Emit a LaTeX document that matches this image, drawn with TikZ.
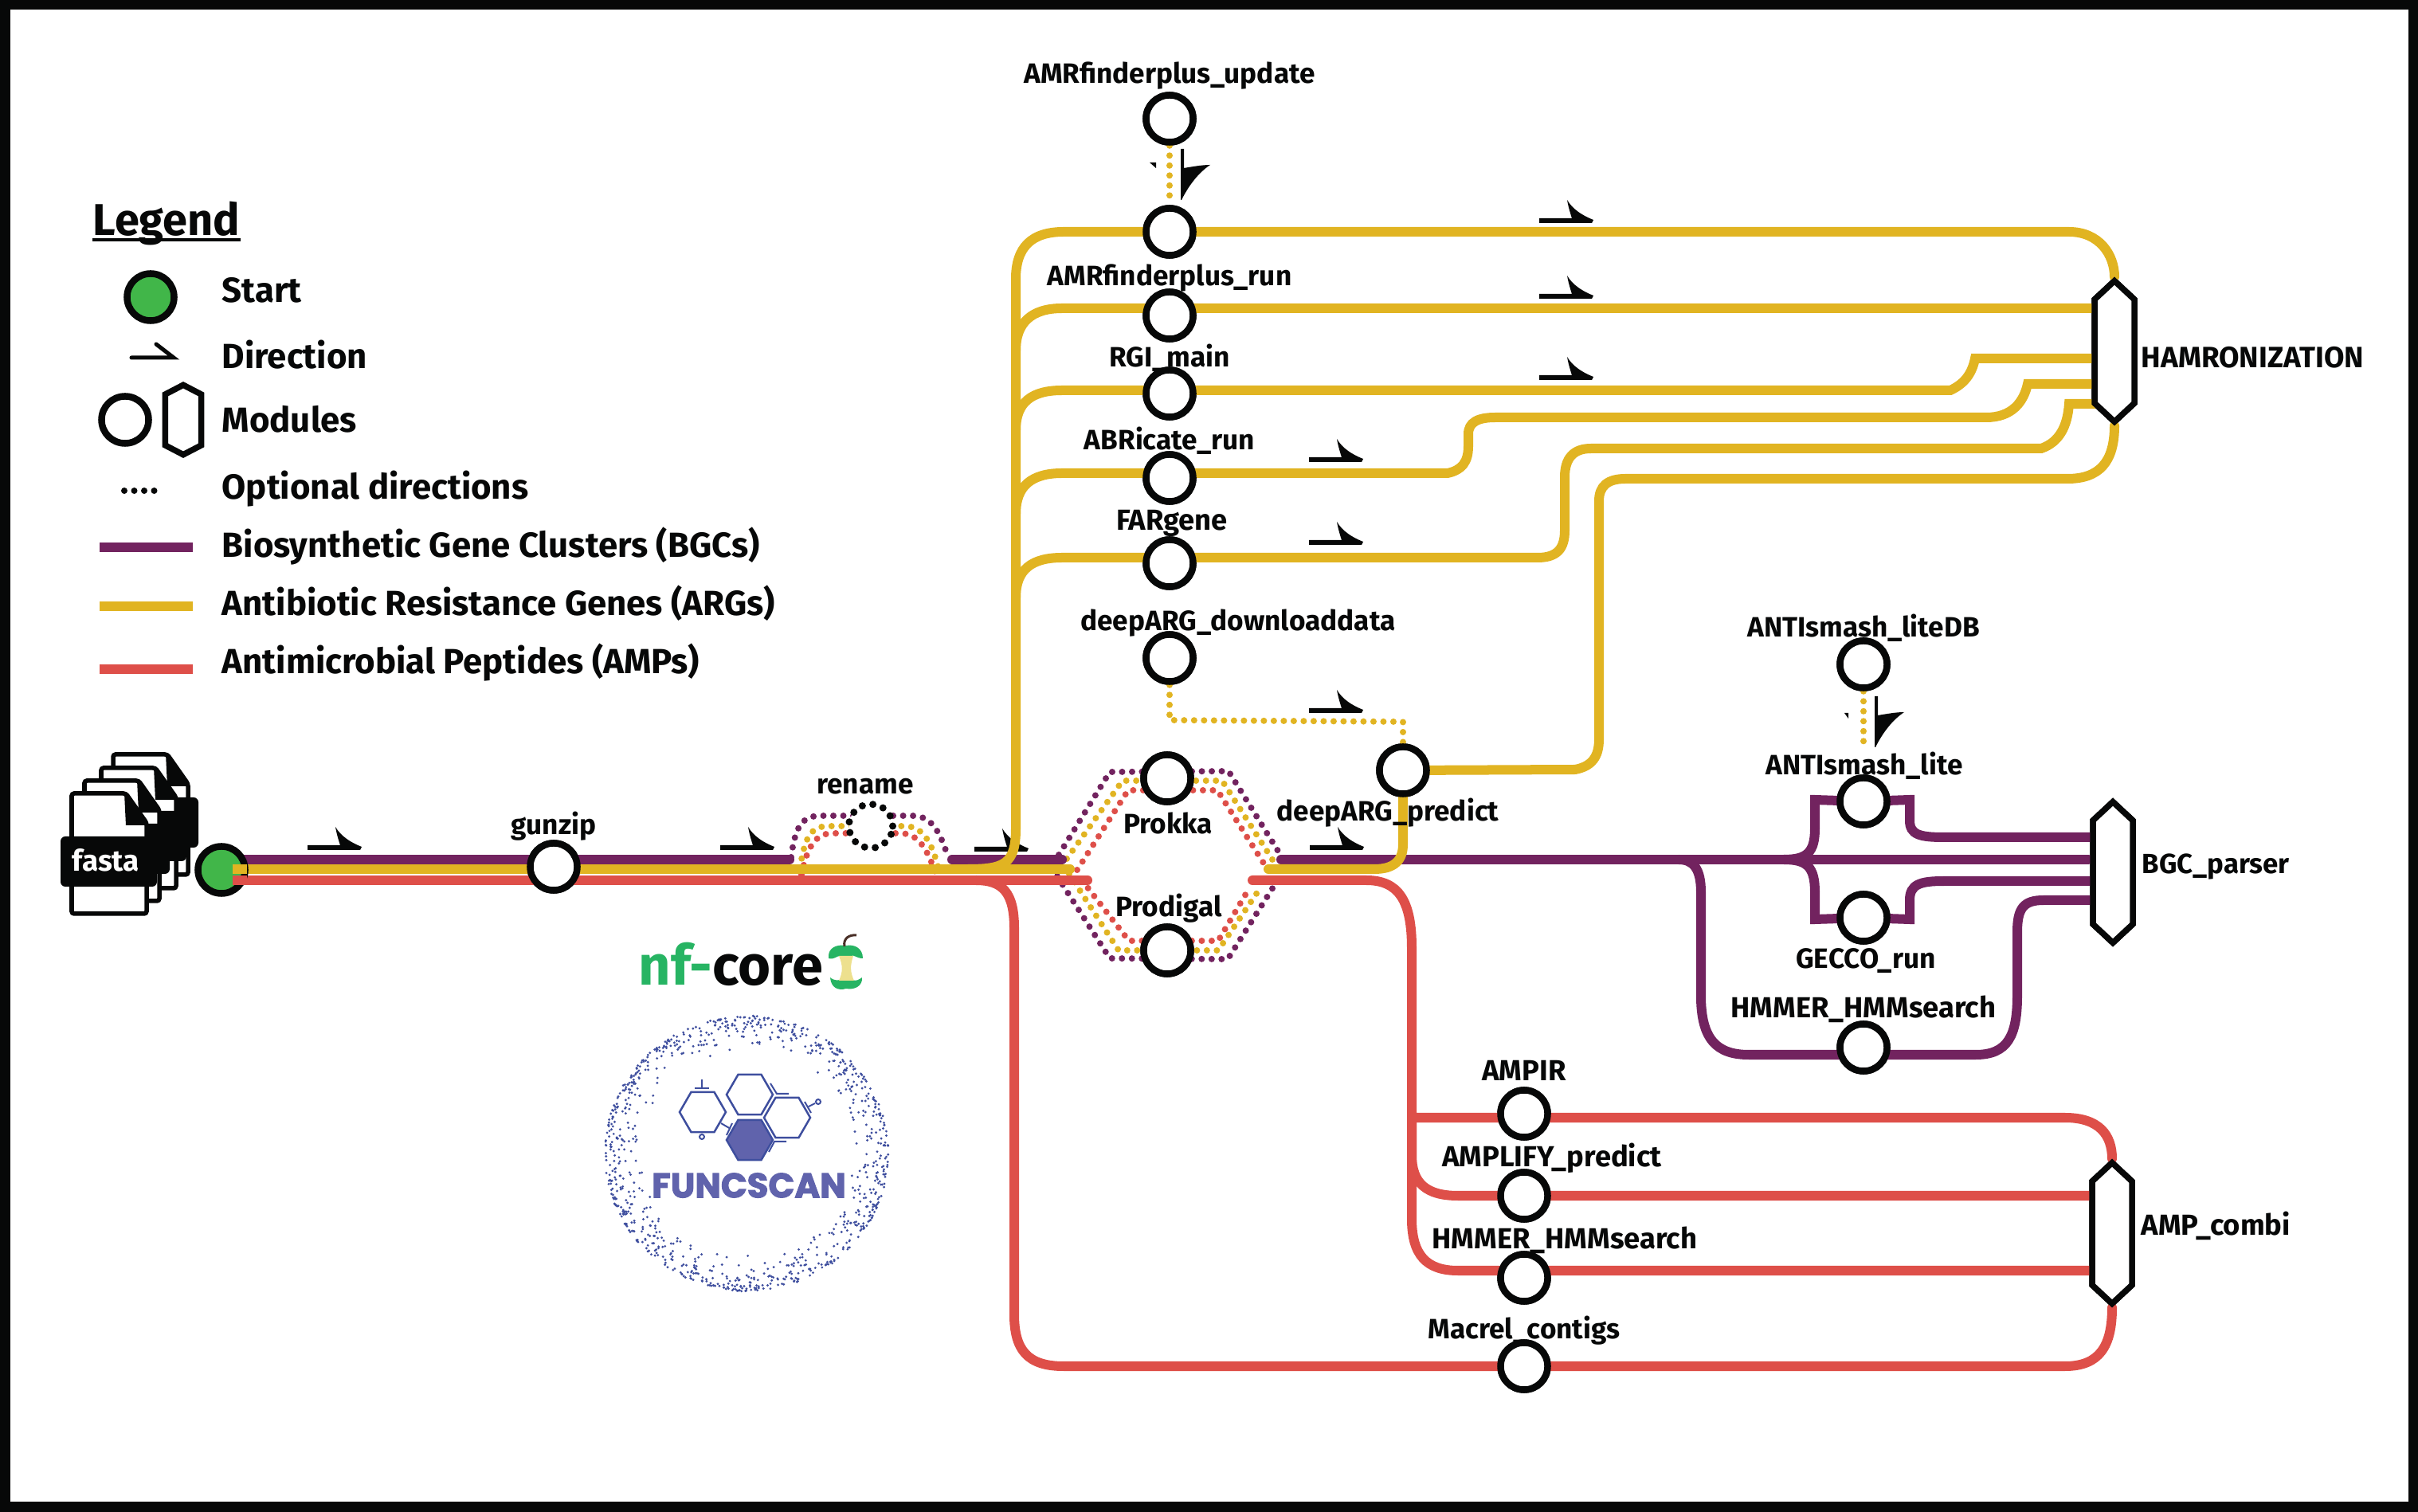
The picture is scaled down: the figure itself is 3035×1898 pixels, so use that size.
\documentclass[tikz,border=0pt]{standalone}
\usepackage{fontspec}
\setmainfont{Fira Sans}
\newfontfamily\logofont[BoldFeatures={FakeBold=2.5}]{Poppins}
\usetikzlibrary{
    positioning,
    calc,
    shapes.geometric,
    shapes.symbols
}
\definecolor{bgcpurple}{HTML}{72235F}
\definecolor{arggold}{HTML}{E1B422}
\definecolor{ampred}{HTML}{DE4F49}
\definecolor{startgreen}{HTML}{41B649}
\definecolor{inkblack}{HTML}{070808}
\definecolor{logoblue}{HTML}{6063AC}
\definecolor{dotblue}{HTML}{3E4E9E}
\definecolor{nfgreen}{HTML}{27B463}
\definecolor{corecream}{HTML}{EDE08E}
\definecolor{stembrown}{HTML}{4A3028}

\begin{document}
\begin{tikzpicture}[
    x=0.01cm, y=-0.01cm,
    track/.style={line width=0.12cm, line cap=round},
    bgc/.style={track, draw=bgcpurple},
    arg/.style={track, draw=arggold},
    amp/.style={track, draw=ampred},
    dots/.style={line width=0.08cm, line cap=round, dash pattern=on 0pt off 0.125cm},
    module/.style={circle, draw=inkblack, fill=white, line width=0.085cm, minimum size=0.59cm, inner sep=0pt},
    startmod/.style={module, fill=startgreen},
    hexmod/.style={signal, signal to=north and south, signal pointer angle=94, draw=inkblack, fill=white,
        line width=0.075cm, inner sep=0pt, minimum width=0.5cm, minimum height=1.30cm},
    modname/.style={font=\bfseries\fontsize{10}{12}\selectfont, text=inkblack, inner sep=0pt, yshift=-0.02cm},
    capsname/.style={modname, font=\bfseries\fontsize{10.35}{12}\selectfont},
    legendname/.style={font=\bfseries\fontsize{12.45}{15}\selectfont, text=inkblack, anchor=west, inner sep=0pt},
    dirarrow/.pic={\fill[inkblack] (0,-3) -- (41,-3) .. controls (38,-12) and (36,-20) .. (35,-26)
        .. controls (42,-14) and (55,-6) .. (68,-1) -- (66,3) -- (0,3) -- cycle;},
    dirdown/.pic={\fill[inkblack] (-2,0) -- (2,0) -- (2,24) .. controls (14,22) and (25,20) .. (35,20)
        .. controls (20,30) and (8,46) .. (-1,64) -- (-2,64) -- cycle;}
]
    \useasboundingbox (0,0) rectangle (3035,1898);
    \draw[inkblack, line width=0.13cm] (6,6) rectangle (3029,1892);

    % Module positions
    \node[module] (gunzip) at (695,1088) {};
    \node[module, draw=none, fill=none] (rename) at (1093,1037) {};
    \node[module] (prokka) at (1465,977) {};
    \node[module] (prodigal) at (1465,1193) {};
    \node[module] (amrupdate) at (1468,149) {};
    \node[module] (amrrun) at (1468,291) {};
    \node[module] (amrlow) at (1468,396) {};
    \node[module] (rgi) at (1468,494) {};
    \node[module] (abricate) at (1468,600) {};
    \node[module] (fargene) at (1468,707) {};
    \node[module] (deepdata) at (1468,826) {};
    \node[module] (deeppred) at (1761,967) {};
    \node[module] (asliteb) at (2339,834) {};
    \node[module] (aslite) at (2339,1006) {};
    \node[module] (gecco) at (2339,1152) {};
    \node[module] (hmmerbgc) at (2339,1315) {};
    \node[module] (ampir) at (1913,1398) {};
    \node[module] (amplify) at (1913,1501) {};
    \node[module] (hmmeramp) at (1913,1604) {};
    \node[module] (macrel) at (1913,1715) {};
    \node[hexmod] (hamr) at (2654,441) {};
    \node[hexmod] (bgcparser) at (2652,1095) {};
    \node[hexmod] (ampcombi) at (2651,1548) {};
    \coordinate (junction) at (1275,1040);

    % Optional paths round rename and the two gene callers
    \draw[dots, draw=bgcpurple] (993,1076) .. controls (998,1040) and (1005,1024) .. (1030,1024) -- (1145,1024)
        .. controls (1170,1024) and (1180,1045) .. (1190,1076);
    \draw[dots, draw=arggold] (1004,1090) .. controls (1010,1055) and (1015,1037) .. (1040,1037) -- (1135,1037)
        .. controls (1160,1037) and (1170,1060) .. (1178,1090);
    \draw[dots, draw=ampred] (1006,1098) .. controls (1012,1070) and (1020,1046) .. (1045,1046) -- (1130,1046)
        .. controls (1155,1046) and (1165,1070) .. (1175,1098);
    \draw[dots, draw=bgcpurple] (1329,1073) -- (1393,969) -- (1542,968) -- (1604,1068);
    \draw[dots, draw=arggold] (1339,1078) -- (1409,980) -- (1534,980) -- (1599,1082);
    \draw[dots, draw=ampred] (1352,1092) -- (1416,992) -- (1528,992) -- (1587,1085);
    \draw[dots, draw=ampred] (1358,1105) -- (1417,1181) -- (1529,1181) -- (1568,1115);
    \draw[dots, draw=arggold] (1342,1097) -- (1404,1193) -- (1529,1193) -- (1583,1113);
    \draw[dots, draw=bgcpurple] (1327,1100) -- (1393,1203) -- (1541,1204) -- (1608,1098);
    \draw[dots, draw=arggold] (amrupdate) -- (amrrun);
    \draw[dots, draw=arggold] (deepdata) -- (1468,904) -- (1761,906) -- (deeppred);
    \draw[dots, draw=arggold] (asliteb) -- (2339,941);

    % Direction arrows
    \foreach \ax/\ay in {386/1064, 904/1064, 1223/1066, 1644/1064, 1932/277, 1932/372, 1932/474, 1643/577, 1643/681, 1643/892}
        \pic at (\ax,\ay) {dirarrow};
    \pic at (1484,187) {dirdown};
    \pic at (2355,874) {dirdown};
    \fill[inkblack] (1443,204) -- (1451,204) -- (1451,211) -- cycle;
    \fill[inkblack] (2315,895) -- (2320,895) -- (2320,902) -- cycle;

    % Biosynthetic gene clusters
    \draw[bgc] (278,1079) -- (991,1079);
    \draw[bgc] (1195,1079) -- (1333,1079);
    \draw[bgc] (1608,1079) -- (2621,1079);
    \draw[bgc] (2239,1079) .. controls (2268,1079) and (2278,1070) .. (2278,1040) -- (2278,1004) -- (aslite)
        -- (2397,1004) -- (2397,1030) .. controls (2397,1048) and (2410,1051) .. (2440,1051) -- (bgcparser.west |- 0,1051);
    \draw[bgc] (2239,1079) .. controls (2268,1079) and (2278,1088) .. (2278,1120) -- (2278,1154) -- (gecco)
        -- (2397,1154) -- (2397,1130) .. controls (2397,1110) and (2410,1106) .. (2440,1106) -- (bgcparser.west |- 0,1106);
    \draw[bgc] (2107,1079) .. controls (2125,1079) and (2135,1090) .. (2135,1120) -- (2135,1250)
        .. controls (2135,1305) and (2155,1324) .. (2195,1324) -- (2480,1324)
        .. controls (2520,1324) and (2532,1300) .. (2532,1250) -- (2532,1170)
        .. controls (2532,1140) and (2540,1130) .. (2565,1130) -- (bgcparser.west |- 0,1130);

    % Antibiotic resistance genes
    \draw[arg] (292,1091) -- (1343,1091);
    \draw[arg] (1592,1091) -- (1725,1091) .. controls (1750,1091) and (1761,1080) .. (1761,1060) -- (deeppred);
    \draw[arg] (1215,1091) .. controls (1260,1091) and (1275,1085) .. (junction) -- (1275,350)
        .. controls (1275,310) and (1295,291) .. (1335,291) -- (amrrun) -- (2597,291)
        .. controls (2635,291) and (2654,320) .. (hamr.north);
    \draw[arg] (1275,440) .. controls (1275,405) and (1295,387) .. (1333,387) -- (1468,387) -- (hamr.center |- 0,387);
    \draw[arg] (1275,540) .. controls (1275,505) and (1295,490) .. (1333,490) -- (2448,490)
        .. controls (2465,482) and (2475,470) .. (2479,450) -- (hamr.center |- 0,450);
    \draw[arg] (1275,645) .. controls (1275,610) and (1295,594) .. (1333,594) -- (1817,594)
        .. controls (1835,590) and (1843,580) .. (1843,560) -- (1843,545) .. controls (1843,530) and (1855,524) .. (1877,524)
        -- (2493,524) .. controls (2525,524) and (2540,505) .. (2545,482) -- (hamr.center |- 0,482);
    \draw[arg] (1275,750) .. controls (1275,715) and (1295,700) .. (1333,700) -- (1930,700)
        .. controls (1955,700) and (1964,688) .. (1964,666) -- (1964,599) .. controls (1964,575) and (1975,563) .. (1997,563)
        -- (2562,563) .. controls (2585,555) and (2595,535) .. (2597,507) -- (hamr.center |- 0,507);
    \draw[arg] (deeppred) -- (1977,966) .. controls (1998,962) and (2007,950) .. (2007,928) -- (2007,629)
        .. controls (2007,610) and (2018,601) .. (2040,601) -- (2595,601)
        .. controls (2635,601) and (2654,580) .. (hamr.south);

    % Antimicrobial peptides
    \draw[amp] (292,1105) -- (1365,1105);
    \draw[amp] (1225,1105) .. controls (1258,1105) and (1273,1120) .. (1273,1165) -- (1273,1650)
        .. controls (1273,1695) and (1290,1715) .. (1335,1715) -- (macrel) -- (2592,1715)
        .. controls (2635,1715) and (2651,1690) .. (ampcombi.south);
    \draw[amp] (1572,1105) -- (1715,1105) .. controls (1755,1105) and (1772,1130) .. (1772,1190) -- (1772,1403)
        -- (2592,1403) .. controls (2635,1403) and (2651,1425) .. (ampcombi.north);
    \draw[amp] (1772,1400) -- (1772,1450) .. controls (1772,1485) and (1790,1501) .. (1830,1501) -- (ampcombi.center |- 0,1501);
    \draw[amp] (1772,1400) -- (1772,1530) .. controls (1772,1575) and (1790,1595) .. (1830,1595) -- (ampcombi.center |- 0,1595);

    % Modules on top of the lines
    \foreach \mod in {gunzip, prokka, prodigal, amrupdate, amrrun, amrlow, rgi, abricate, fargene, deepdata,
        deeppred, asliteb, aslite, gecco, hmmerbgc, ampir, amplify, hmmeramp, macrel}
        \node[module] at (\mod) {};
    \node[module, line width=0.09cm, line cap=round, dash pattern=on 0pt off 0.135cm, minimum size=0.55cm] at (rename) {};
    \foreach \hex in {hamr, bgcparser, ampcombi}
        \node[hexmod] at (\hex) {};
    \node[startmod] (start) at (278,1092) {};
    \fill[arggold] (292,1085) rectangle (310,1097);
    \fill[ampred] (292,1099) rectangle (310,1111);

    % Module names
    \node[modname] at (695,1035) {gunzip};
    \node[modname] at (1086,985) {rename};
    \node[modname] at (1466,1031) {Prokka};
    \node[modname] at (1467,1138) {Prodigal};
    \node[modname] at (1468,93) {AMRfinderplus\_update};
    \node[modname] at (1468,347) {AMRfinderplus\_run};
    \node[modname] at (1468,447) {RGI\_main};
    \node[modname] at (1468,551) {ABRicate\_run};
    \node[capsname] at (1471,655) {FARgene};
    \node[modname] at (1554,780) {deepARG\_downloaddata};
    \node[modname] at (1742,1018) {deepARG\_predict};
    \node[modname] at (2339,786) {ANTIsmash\_liteDB};
    \node[modname] at (2340,959) {ANTIsmash\_lite};
    \node[modname] at (2342,1204) {GECCO\_run};
    \node[capsname] at (2339,1265) {HMMER\_HMMsearch};
    \node[capsname] at (1913,1342) {AMPIR};
    \node[capsname] at (1948,1452) {AMPLIFY\_predict};
    \node[capsname] at (1964,1555) {HMMER\_HMMsearch};
    \node[modname] at (1913,1668) {Macrel\_contigs};
    \node[capsname, anchor=west, font=\bfseries\fontsize{10.5}{12}\selectfont] at (2687,447) {HAMRONIZATION};
    \node[modname, anchor=west, font=\bfseries\fontsize{9.9}{12}\selectfont] at (2688,1086) {BGC\_parser};
    \node[capsname, anchor=west] at (2687,1537) {AMP\_combi};

    % Input files
    \foreach \fx/\fy in {52/-49, 37/-32, 16/-16, 0/0} {
        \begin{scope}[shift={(\fx,\fy)}]
            \draw[inkblack, fill=white, line width=0.055cm, rounded corners=0.03cm] (90,996) -- (158,996) -- (184,1033) -- (184,1147) -- (90,1147) -- cycle;
            \fill[inkblack] (156,995) -- (187,1036) -- (158,1036) -- cycle;
            \fill[inkblack, rounded corners=0.06cm] (76,1050) rectangle (197,1113);
        \end{scope}
    }
    \node[font=\bfseries\fontsize{10.5}{12}\selectfont, text=white, inner sep=0pt] (fastaname) at (133,1080) {fasta};

    % Legend
    \node[font=\bfseries\fontsize{15.9}{18}\selectfont, text=inkblack, anchor=base west, inner sep=0pt] (legendtitle) at (116,296) {Legend};
    \draw[inkblack, line width=0.04cm] (legendtitle.base west |- 0,301) -- (legendtitle.base east |- 0,301);
    \node[startmod] (legstart) at (189,373) {};
    \node[legendname] (legstarttext) at (278,364) {Start};
    \draw[inkblack, line width=0.05cm, line cap=round] (165,449) -- (218,449) -- (196,432);
    \node[legendname] (legdirtext) at (278,445) {Direction};
    \node[module] (legmod) at (157,527) {};
    \node[signal, signal to=north and south, signal pointer angle=125, draw=inkblack, fill=white, line width=0.075cm,
        inner sep=0pt, minimum width=0.45cm, minimum height=0.64cm] (leghex) at (230,527) {};
    \node[legendname] (legmodtext) at (278,526) {Modules};
    \draw[dots, draw=inkblack] (156,616) -- (206,616);
    \node[legendname] (legopttext) at (278,614) {Optional directions};
    \draw[bgcpurple, line width=0.12cm] (125,687) -- (242,687);
    \node[legendname] (legbgc) at (278,686) {Biosynthetic Gene Clusters (BGCs)};
    \draw[arggold, line width=0.12cm] (125,761) -- (242,761);
    \node[legendname] (legarg) at (278,757) {Antibiotic Resistance Genes (ARGs)};
    \draw[ampred, line width=0.12cm] (125,840) -- (242,840);
    \node[legendname] (legamp) at (278,832) {Antimicrobial Peptides (AMPs)};

    % nf-core logo
    \node[font=\bfseries\fontsize{20}{23}\selectfont, anchor=base west, inner sep=0pt] (nfcore) at (801,1237)
        {\textcolor{nfgreen}{nf-}\textcolor{inkblack}{core}};
    \fill[nfgreen] (1040,1200) .. controls (1040,1190) and (1050,1185) .. (1062,1187) .. controls (1072,1185) and (1083,1190) .. (1083,1203)
        .. controls (1075,1203) and (1072,1198) .. (1068,1200) -- (1054,1200) .. controls (1050,1200) and (1047,1205) .. (1040,1203) -- cycle;
    \fill[nfgreen] (1042,1227) .. controls (1048,1232) and (1052,1230) .. (1056,1230) -- (1070,1230)
        .. controls (1074,1232) and (1078,1230) .. (1082,1227) .. controls (1083,1238) and (1072,1243) .. (1062,1241) .. controls (1052,1244) and (1043,1240) .. (1042,1227) -- cycle;
    \fill[corecream] (1053,1200) -- (1071,1200) .. controls (1067,1212) and (1067,1220) .. (1072,1231) -- (1053,1231) .. controls (1058,1220) and (1058,1212) .. (1053,1200) -- cycle;
    \draw[stembrown, line width=0.03cm] (1060,1188) .. controls (1058,1178) and (1066,1173) .. (1075,1174);

    % funcscan logo
    \pgfmathsetseed{31}
    \foreach \i in {1,...,950} {
        \pgfmathsetmacro{\dotang}{360*rnd}
        \pgfmathsetmacro{\dotrad}{1-0.27*rnd*rnd}
        \fill[dotblue] ({937+178*\dotrad*cos(\dotang)},{1448+173*\dotrad*sin(\dotang)}) circle (0.016cm);
    }
    \foreach \hname/\hx/\hy in {hexa/882/1396, hexb/941/1374, hexc/988/1403}
        \node[regular polygon, regular polygon sides=6, draw=dotblue, line width=0.025cm, minimum size=0.58cm, inner sep=0pt] (\hname) at (\hx,\hy) {};
    \node[regular polygon, regular polygon sides=6, draw=dotblue, fill=logoblue, line width=0.025cm, minimum size=0.58cm, inner sep=0pt] (hexd) at (941,1431) {};
    \draw[dotblue, line width=0.02cm] (881,1355) -- (881,1366) (872,1366) -- (890,1366);
    \draw[dotblue, line width=0.02cm] (881,1427) circle (0.03cm);
    \draw[dotblue, line width=0.02cm] (905,1410) -- (917,1417) (919,1410) -- (912,1425);
    \draw[dotblue, line width=0.02cm] (967,1360) -- (975,1373) -- (990,1373);
    \draw[dotblue, line width=0.02cm] (1010,1383) -- (1018,1397) (1015,1389) -- (1023,1385);
    \draw[dotblue, line width=0.02cm] (1027,1383) circle (0.03cm);
    \draw[dotblue, line width=0.02cm] (987,1433) -- (972,1433) -- (965,1446);
    \node[font=\logofont\bfseries\fontsize{12.3}{15}\selectfont, text=logoblue, inner sep=0pt] (funcscan) at (940,1488) {FUNCSCAN};
\end{tikzpicture}
\end{document}
